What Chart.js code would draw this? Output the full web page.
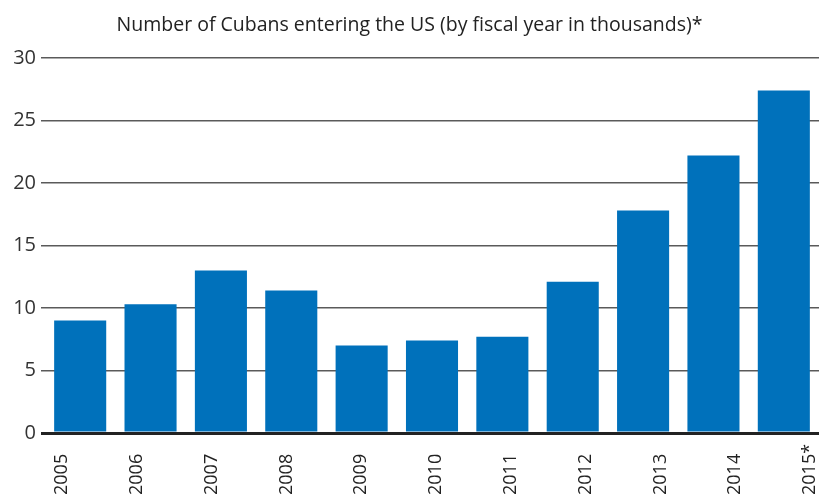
<!DOCTYPE html>
<html>
<head>
<meta charset="utf-8">
<script src="https://cdn.jsdelivr.net/npm/chart.js@4/dist/chart.umd.min.js"></script>
<style>
	html, body { margin: 0; padding: 0; background: #fff; }
	#wrap { width: 819px; height: 495px; }
</style>
</head>
<body>
<div id="wrap"><canvas id="cubans-chart"></canvas></div>
<script>
	// Chart data
	var years = [ '2005', '2006', '2007', '2008', '2009', '2010', '2011', '2012', '2013', '2014', '2015*' ];
	var arrivals = [ 9.0, 10.3, 13.0, 11.4, 7.0, 7.4, 7.7, 12.1, 17.8, 22.2, 27.4 ];
	var yTicks = [ 0, 5, 10, 15, 20, 25, 30 ];

	var barBlue = '#0071bb';
	var fontFamily = "'Open Sans', 'Noto Sans', sans-serif";

	// Year labels sit on their own evenly spread positions, bottom-aligned
	var yearLabels = {
		id: 'yearLabels',
		afterDraw: function( chart ) {
			var ctx = chart.ctx;
			var scale = chart.scales.xl;
			ctx.save();
			ctx.font = '18px ' + fontFamily;
			ctx.fillStyle = '#222';
			ctx.textAlign = 'left';
			ctx.textBaseline = 'middle';
			for ( var i = 0; i < years.length; i++ ) {
				ctx.save();
				ctx.translate( scale.getPixelForValue( i ), chart.height );
				ctx.rotate( -Math.PI / 2 );
				ctx.fillText( years[ i ], 0, 0 );
				ctx.restore();
			}
			ctx.restore();
		}
	};

	new Chart( document.getElementById( 'cubans-chart' ), {
		type: 'bar',
		data: {
			labels: years,
			datasets: [ {
				data: arrivals,
				xAxisID: 'x',
				backgroundColor: barBlue,
				borderWidth: 0,
				categoryPercentage: 1,
				barPercentage: 0.74
			} ]
		},
		options: {
			responsive: true,
			maintainAspectRatio: false,
			animation: false,
			layout: { padding: 0 },
			plugins: {
				legend: { display: false },
				tooltip: { enabled: false },
				title: {
					display: true,
					text: 'Number of Cubans entering the US (by fiscal year in thousands)*',
					color: '#222',
					font: { family: fontFamily, size: 19.5, weight: 'normal' },
					padding: { top: 14, bottom: 20.6 }
				}
			},
			scales: {
				x: {
					type: 'category',
					z: 1,
					grid: { display: false },
					border: { display: true, color: '#222', width: 3 },
					ticks: { display: false },
					afterFit: function( scale ) { scale.height = 62; }
				},
				// helper axis for the year label positions, takes no room
				xl: {
					type: 'linear',
					position: 'bottom',
					offset: false,
					min: -0.23,
					max: 10.12,
					grid: { display: false },
					border: { display: false },
					ticks: { display: false },
					afterFit: function( scale ) { scale.height = 0; }
				},
				y: {
					min: 0,
					max: 30,
					afterBuildTicks: function( scale ) {
						scale.ticks = yTicks.map( function( v ) { return { value: v }; } );
					},
					afterFit: function( scale ) { scale.width = 45; },
					border: { display: false },
					grid: {
						tickLength: 4,
						color: function( c ) { return c.tick && c.tick.value === 0 ? '#222' : '#5a5a5a'; },
						lineWidth: function( c ) { return c.tick && c.tick.value === 0 ? 3 : 1.5; }
					},
					ticks: {
						padding: 5,
						color: '#333',
						font: { family: fontFamily, size: 20 }
					}
				}
			}
		},
		plugins: [ yearLabels ]
	} );
</script>
</body>
</html>
